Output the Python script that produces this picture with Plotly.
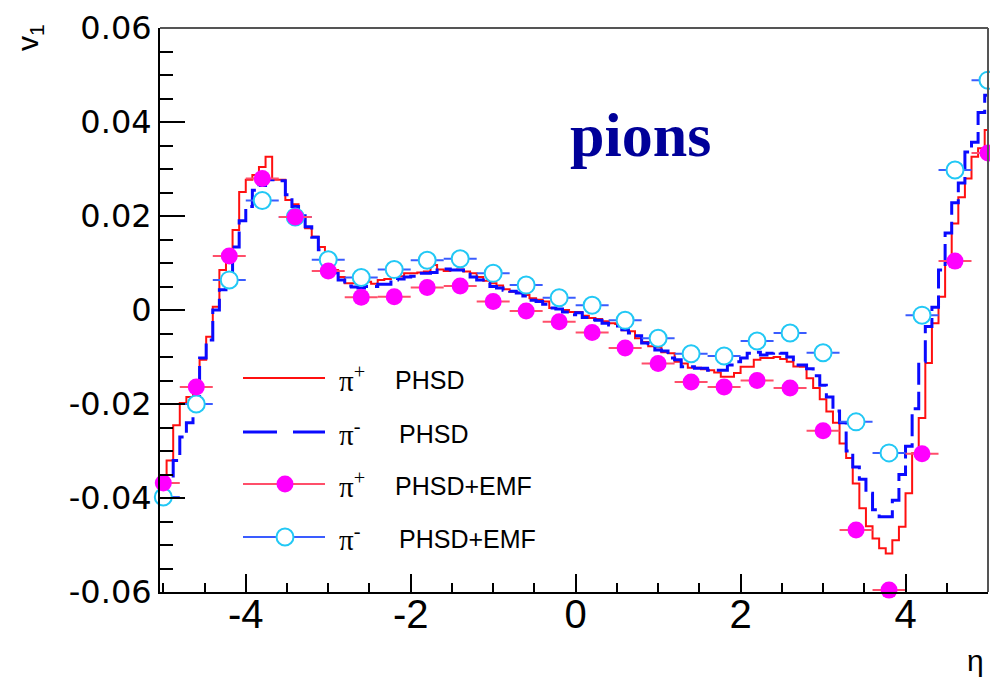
import plotly.graph_objects as go

# ---------------- data ----------------
# PHSD histograms (bin width 0.08, first edge at -5.04)
HIST_START = -5.04
HIST_BIN = 0.08
pip_phsd = [
    -0.0370, -0.0320, -0.0245, -0.0198, -0.0185, -0.0160, -0.0106, -0.0057, 0.0007, 0.0085,
    0.0120, 0.0170, 0.0251, 0.0277, 0.0287, 0.0304, 0.0326, 0.0277, 0.0277, 0.0234,
    0.0225, 0.0198, 0.0174, 0.0156, 0.0134, 0.0110, 0.0085, 0.0070, 0.0057, 0.0057,
    0.0058, 0.0060, 0.0056, 0.0064, 0.0066, 0.0070, 0.0072, 0.0078, 0.0078, 0.0080,
    0.0082, 0.0096, 0.0086, 0.0083, 0.0085, 0.0086, 0.0082, 0.0078, 0.0070, 0.0062,
    0.0057, 0.0052, 0.0044, 0.0039, 0.0037, 0.0032, 0.0025, 0.0022, 0.0018, 0.0004,
    0.0002, 0.0000, -0.0004, -0.0004, -0.0012, -0.0017, -0.0019, -0.0024, -0.0028, -0.0030,
    -0.0043, -0.0045, -0.0060, -0.0068, -0.0077, -0.0079, -0.0090, -0.0092, -0.0110, -0.0114,
    -0.0123, -0.0123, -0.0126, -0.0128, -0.0133, -0.0142, -0.0142, -0.0134, -0.0121, -0.0121,
    -0.0106, -0.0102, -0.0102, -0.0100, -0.0104, -0.0110, -0.0120, -0.0121, -0.0145, -0.0166,
    -0.0190, -0.0216, -0.0240, -0.0284, -0.0315, -0.0369, -0.0422, -0.0460, -0.0486, -0.0507,
    -0.0518, -0.0490, -0.0461, -0.0390, -0.0305, -0.0230, -0.0113, -0.0028, 0.0028, 0.0102,
    0.0184, 0.0240, 0.0280, 0.0326, 0.0344, 0.0383,
]
pim_phsd = [
    -0.0390, -0.0360, -0.0320, -0.0270, -0.0240, -0.0200, -0.0102, -0.0064, 0.0000, 0.0043,
    0.0070, 0.0134, 0.0190, 0.0220, 0.0255, 0.0265, 0.0277, 0.0277, 0.0275, 0.0245,
    0.0220, 0.0205, 0.0177, 0.0155, 0.0128, 0.0110, 0.0079, 0.0064, 0.0051, 0.0049,
    0.0047, 0.0050, 0.0050, 0.0055, 0.0055, 0.0064, 0.0066, 0.0070, 0.0072, 0.0078,
    0.0078, 0.0080, 0.0085, 0.0087, 0.0085, 0.0085, 0.0080, 0.0070, 0.0064, 0.0058,
    0.0050, 0.0047, 0.0042, 0.0040, 0.0036, 0.0030, 0.0021, 0.0018, 0.0012, 0.0004,
    0.0002, -0.0004, -0.0010, -0.0006, -0.0016, -0.0021, -0.0022, -0.0028, -0.0032, -0.0034,
    -0.0042, -0.0049, -0.0055, -0.0070, -0.0072, -0.0085, -0.0087, -0.0102, -0.0106, -0.0121,
    -0.0121, -0.0124, -0.0124, -0.0128, -0.0128, -0.0128, -0.0117, -0.0110, -0.0102, -0.0092,
    -0.0090, -0.0096, -0.0092, -0.0090, -0.0092, -0.0100, -0.0117, -0.0117, -0.0125, -0.0140,
    -0.0160, -0.0185, -0.0215, -0.0240, -0.0300, -0.0334, -0.0360, -0.0390, -0.0425, -0.0440,
    -0.0440, -0.0405, -0.0350, -0.0290, -0.0210, -0.0110, -0.0035, 0.0006, 0.0085, 0.0164,
    0.0228, 0.0270, 0.0336, 0.0357, 0.0420, 0.0457,
]

# PHSD+EMF points
eta_pts = [-5.0, -4.6, -4.2, -3.8, -3.4, -3.0, -2.6, -2.2, -1.8, -1.4, -1.0, -0.6, -0.2,
           0.2, 0.6, 1.0, 1.4, 1.8, 2.2, 2.6, 3.0, 3.4, 3.8, 4.2, 4.6, 5.0]
eta_halfwidth = 0.2
pip_emf = [-0.0368, -0.0164, 0.0115, 0.0280, 0.0198, 0.0083, 0.0027, 0.0028, 0.0048, 0.0051,
           0.0018, -0.0002, -0.0025, -0.0048, -0.0081, -0.0114, -0.0153, -0.0164, -0.0150, -0.0166,
           -0.0257, -0.0468, -0.0596, -0.0306, 0.0104, 0.0334]
pim_emf = [-0.0398, -0.0200, 0.0064, 0.0233, 0.0198, 0.0107, 0.0069, 0.0086, 0.0106, 0.0109,
           0.0078, 0.0053, 0.0026, 0.0010, -0.0022, -0.0060, -0.0093, -0.0098, -0.0066, -0.0049,
           -0.0091, -0.0238, -0.0304, -0.0011, 0.0298, 0.0489]

x_tick_vals = [-4, -2, 0, 2, 4]
x_tick_text = ["-4", "-2", "0", "2", "4"]
y_tick_vals = [-0.06, -0.04, -0.02, 0.0, 0.02, 0.04, 0.06]
y_tick_text = ["-0.06", "-0.04", "-0.02", "0", "0.02", "0.04", "0.06"]

legend_labels = [("π<sup>+</sup>", "PHSD"), ("π<sup>-</sup>", "PHSD"),
                 ("π<sup>+</sup>", "PHSD+EMF"), ("π<sup>-</sup>", "PHSD+EMF")]

# ---------------- styles ----------------
RED = "#ff1010"
BLUE = "#0a0aff"
MAGENTA = "#ff00ff"
CYAN = "#22c8f5"
PINK_BAR = "#ff4f6a"
BLUE_BAR = "#3a5cff"
HIST_DASH = "22px,7px"

W, H = 990, 678
ML, MR, MT, MB = 160, 2, 28, 86
PW, PH = W - ML - MR, H - MT - MB


def hist_xy(values):
    edges = [HIST_START + HIST_BIN * i for i in range(len(values) + 1)]
    return edges, list(values) + [values[-1]]


fig = go.Figure()

hx, hy = hist_xy(pip_phsd)
fig.add_trace(go.Scatter(x=hx, y=hy, mode="lines", line=dict(color=RED, width=2, shape="hv"),
                         showlegend=False, hoverinfo="skip"))
hx, hy = hist_xy(pim_phsd)
fig.add_trace(go.Scatter(x=hx, y=hy, mode="lines",
                         line=dict(color=BLUE, width=3, shape="hv", dash=HIST_DASH),
                         showlegend=False, hoverinfo="skip"))

fig.add_trace(go.Scatter(
    x=eta_pts, y=pim_emf, mode="markers", cliponaxis=False, showlegend=False,
    marker=dict(symbol="circle", size=17, color="white", line=dict(color=CYAN, width=2)),
    error_x=dict(type="constant", value=eta_halfwidth, thickness=2, width=0, color=BLUE_BAR)))
fig.add_trace(go.Scatter(
    x=eta_pts, y=pip_emf, mode="markers", cliponaxis=False, showlegend=False,
    marker=dict(symbol="circle", size=17, color=MAGENTA, line=dict(width=0)),
    error_x=dict(type="constant", value=eta_halfwidth, thickness=2, width=0, color=PINK_BAR)))


def px(x):
    return (x - ML) / PW


def py(y):
    return (MT + PH - y) / PH


shapes = []
annotations = []

# frame (top and right)
shapes.append(dict(type="line", xref="paper", yref="paper", x0=0, x1=1, y0=1, y1=1,
                   line=dict(color="#555555", width=2)))
shapes.append(dict(type="line", xref="paper", yref="paper", x0=1, x1=1, y0=0, y1=1,
                   line=dict(color="#555555", width=2)))

# manual legend
row_y = [378, 432, 484, 537]
line_styles = [dict(color=RED, width=2), dict(color=BLUE, width=3, dash="34px,16px"),
               dict(color=PINK_BAR, width=2), dict(color=BLUE_BAR, width=2)]
for i, yy in enumerate(row_y):
    shapes.append(dict(type="line", xref="paper", yref="paper", x0=px(243), x1=px(325),
                       y0=py(yy), y1=py(yy), line=line_styles[i]))
    sym, lab = legend_labels[i]
    annotations.append(dict(x=px(337), y=py(yy + 1), xref="paper", yref="paper", text=sym,
                            showarrow=False, xanchor="left", yanchor="middle",
                            font=dict(family="Liberation Serif", size=29, color="black")))
    annotations.append(dict(x=px(393 if i % 2 == 0 else 397), y=py(yy + 2), xref="paper", yref="paper",
                            text=lab, showarrow=False, xanchor="left", yanchor="middle",
                            font=dict(family="Liberation Sans", size=25, color="black")))
for i, (fill, edge) in enumerate([(MAGENTA, MAGENTA), ("white", CYAN)]):
    yy = row_y[2 + i]
    shapes.append(dict(type="circle", xref="paper", yref="paper", xsizemode="pixel", ysizemode="pixel",
                       xanchor=px(285), yanchor=py(yy), x0=-8.5, x1=8.5, y0=-8.5, y1=8.5,
                       fillcolor=fill, line=dict(color=edge, width=2 if i else 0)))

annotations.append(dict(x=px(640), y=py(135), xref="paper", yref="paper", text="<b>pions</b>",
                        showarrow=False, xanchor="center", yanchor="middle",
                        font=dict(family="Liberation Serif", size=62, color="#000099")))
annotations.append(dict(x=px(30), y=py(38), xref="paper", yref="paper", text="v<sub>1</sub>",
                        showarrow=False, textangle=-90, xanchor="center", yanchor="middle",
                        font=dict(family="Liberation Sans", size=30, color="black")))
annotations.append(dict(x=px(975), y=py(660), xref="paper", yref="paper", text="η",
                        showarrow=False, xanchor="center", yanchor="middle",
                        font=dict(family="Liberation Sans", size=30, color="black")))

fig.update_layout(
    width=W, height=H, margin=dict(l=ML, r=MR, t=MT, b=MB),
    paper_bgcolor="white", plot_bgcolor="white", showlegend=False,
    shapes=shapes, annotations=annotations,
    xaxis=dict(range=[-5.04, 5.0], tickvals=x_tick_vals, ticktext=x_tick_text,
               ticks="inside", ticklen=18, tickwidth=2, tickcolor="black", ticklabelstandoff=-14,
               showline=True, linecolor="black", linewidth=2, showgrid=False, zeroline=False,
               tickfont=dict(family="Liberation Sans", size=40, color="black"),
               minor=dict(dtick=0.5, tick0=0, ticks="inside", ticklen=9, tickwidth=2, tickcolor="black",
                          showgrid=False)),
    yaxis=dict(range=[-0.06, 0.06], tickvals=y_tick_vals, ticktext=y_tick_text,
               ticks="inside", ticklen=25, tickwidth=2, tickcolor="black",
               showline=True, linecolor="black", linewidth=2, showgrid=False, zeroline=False,
               tickfont=dict(family="DejaVu Sans", size=32, color="black"),
               minor=dict(dtick=0.005, tick0=0, ticks="inside", ticklen=13, tickwidth=2, tickcolor="black",
                          showgrid=False)),
)

fig.write_html("out.html")
